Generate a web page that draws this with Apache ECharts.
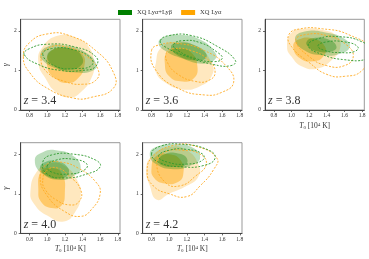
<!DOCTYPE html>
<html><head><meta charset="utf-8">
<script src="https://cdn.jsdelivr.net/npm/echarts@6/dist/echarts.min.js"></script>
<style>html,body{margin:0;padding:0;background:#fff}#c{width:369px;height:259px}</style>
</head><body><div id="c"></div>
<script>
// ---- data (T0 in 1e4 K, gamma) ----
const seriesNames = ['XQ Lyα+Lyβ', 'XQ Lyα'];
const redshifts = ['3.4', '3.6', '3.8', '4.0', '4.2'];
const xTicks = [0.8, 1.0, 1.2, 1.4, 1.6, 1.8];
const yTicks = [0, 1, 2];

// z = 3.4
const z34_orange2 = [[0.9,1.2],[0.95,1.6],[1.13,1.88],[1.33,1.82],[1.47,1.6],[1.53,1.2],[1.5,0.8],[1.38,0.45],[1.26,0.32],[1.1,0.45],[0.98,0.8]];
const z34_orange1 = [[1.0,1.1],[1.05,1.5],[1.25,1.55],[1.4,1.4],[1.42,1.1],[1.35,0.8],[1.24,0.68],[1.1,0.78]];
const z34_green2 = [[0.92,1.4],[1.0,1.6],[1.2,1.63],[1.4,1.5],[1.56,1.15],[1.5,0.98],[1.3,0.95],[1.1,1.05],[0.95,1.25]];
const z34_green1 = [[1.0,1.35],[1.1,1.55],[1.3,1.53],[1.4,1.32],[1.38,1.12],[1.25,1.02],[1.1,1.08]];
const z34_greenD2 = [[0.74,1.4],[0.8,1.55],[1.0,1.66],[1.3,1.6],[1.55,1.35],[1.55,1.1],[1.4,1.0],[1.15,1.0],[0.9,1.15]];
const z34_greenD1 = [[0.95,1.4],[1.05,1.55],[1.3,1.52],[1.5,1.3],[1.5,1.12],[1.35,1.05],[1.1,1.1]];
const z34_orangeD2 = [[0.73,1.35],[0.8,1.7],[1.0,1.92],[1.25,1.88],[1.55,1.5],[1.75,0.95],[1.75,0.55],[1.5,0.32],[1.3,0.3],[1.0,0.55],[0.8,0.95]];
const z34_orangeD1 = [[0.93,1.3],[1.0,1.55],[1.2,1.6],[1.45,1.35],[1.58,1.0],[1.55,0.75],[1.4,0.65],[1.2,0.72],[1.0,0.95]];

// z = 3.6
const z36_orange2 = [[0.85,1.2],[0.9,1.55],[1.05,1.72],[1.3,1.62],[1.48,1.2],[1.48,0.85],[1.35,0.6],[1.15,0.52],[0.95,0.7],[0.85,0.95]];
const z36_orange1 = [[0.95,1.2],[0.98,1.45],[1.1,1.55],[1.25,1.45],[1.32,1.1],[1.28,0.8],[1.15,0.72],[1.0,0.85]];
const z36_green2 = [[0.88,1.7],[0.95,1.85],[1.12,1.9],[1.35,1.78],[1.52,1.45],[1.52,1.28],[1.38,1.17],[1.15,1.3],[0.95,1.5]];
const z36_green1 = [[1.02,1.6],[1.12,1.7],[1.3,1.62],[1.42,1.42],[1.4,1.28],[1.3,1.25],[1.12,1.35]];
const z36_greenD2 = [[0.9,1.75],[1.0,1.88],[1.25,1.88],[1.55,1.6],[1.75,1.25],[1.7,1.12],[1.5,1.15],[1.2,1.35],[0.95,1.6]];
const z36_greenD1 = [[1.05,1.65],[1.15,1.75],[1.35,1.7],[1.55,1.45],[1.6,1.3],[1.5,1.22],[1.3,1.3],[1.1,1.5]];
const z36_orangeD2 = [[0.8,1.5],[0.9,1.65],[1.1,1.68],[1.4,1.5],[1.65,1.1],[1.73,0.7],[1.6,0.45],[1.4,0.38],[1.1,0.55],[0.85,1.0]];
const z36_orangeD1 = [[0.97,1.45],[1.05,1.55],[1.25,1.5],[1.45,1.25],[1.52,0.95],[1.45,0.75],[1.3,0.72],[1.1,0.9],[0.98,1.2]];

// z = 3.8
const z38_orange2 = [[0.95,1.6],[1.0,1.95],[1.15,2.05],[1.35,2.02],[1.52,1.85],[1.55,1.55],[1.45,1.25],[1.3,1.05],[1.12,1.1],[1.0,1.35]];
const z38_orange1 = [[1.02,1.6],[1.08,1.78],[1.25,1.8],[1.38,1.6],[1.36,1.35],[1.25,1.23],[1.1,1.3]];
const z38_green2 = [[1.04,1.8],[1.15,1.98],[1.4,1.95],[1.6,1.8],[1.66,1.6],[1.55,1.42],[1.35,1.38],[1.15,1.5]];
const z38_green1 = [[1.17,1.72],[1.25,1.82],[1.42,1.78],[1.51,1.6],[1.45,1.48],[1.3,1.48],[1.2,1.58]];
const z38_greenD2 = [[1.19,1.62],[1.3,1.8],[1.55,1.85],[1.8,1.72],[1.95,1.45],[1.85,1.28],[1.6,1.27],[1.35,1.4]];
const z38_greenD1 = [[1.3,1.62],[1.4,1.72],[1.6,1.72],[1.75,1.6],[1.72,1.48],[1.55,1.45],[1.38,1.5]];
const z38_orangeD2 = [[0.97,1.9],[1.1,2.05],[1.35,2.05],[1.65,1.9],[1.9,1.5],[1.8,1.0],[1.6,0.85],[1.4,0.9],[1.2,1.2],[1.0,1.6]];
const z38_orangeD1 = [[1.05,1.75],[1.15,1.9],[1.4,1.88],[1.62,1.65],[1.7,1.35],[1.6,1.12],[1.4,1.12],[1.2,1.35]];

// z = 4.0
const z40_orange2 = [[0.81,1.05],[0.88,1.55],[1.03,1.77],[1.2,1.7],[1.35,1.3],[1.38,0.95],[1.32,0.55],[1.19,0.3],[1.0,0.45],[0.85,0.75]];
const z40_orange1 = [[0.9,1.1],[0.93,1.55],[1.05,1.65],[1.17,1.5],[1.2,1.0],[1.16,0.7],[1.05,0.64],[0.93,0.8]];
const z40_green2 = [[0.86,1.85],[0.95,2.05],[1.1,2.1],[1.3,1.95],[1.38,1.65],[1.3,1.45],[1.15,1.35],[0.95,1.5]];
const z40_green1 = [[0.92,1.65],[0.98,1.8],[1.1,1.82],[1.22,1.7],[1.24,1.5],[1.15,1.39],[1.0,1.45]];
const z40_greenD2 = [[0.95,1.8],[1.05,1.98],[1.3,2.0],[1.55,1.85],[1.6,1.68],[1.45,1.5],[1.2,1.4],[1.0,1.5]];
const z40_greenD1 = [[1.0,1.7],[1.1,1.85],[1.3,1.87],[1.45,1.75],[1.42,1.6],[1.25,1.5],[1.05,1.55]];
const z40_orangeD2 = [[0.92,1.45],[1.0,1.75],[1.15,1.8],[1.35,1.65],[1.55,1.3],[1.6,1.0],[1.5,0.6],[1.38,0.43],[1.2,0.55],[1.0,0.95]];
const z40_orangeD1 = [[0.95,1.35],[1.0,1.6],[1.12,1.65],[1.25,1.45],[1.38,1.1],[1.36,0.8],[1.25,0.72],[1.1,0.85],[0.98,1.1]];

// z = 4.2
const z42_orange2 = [[0.74,1.6],[0.8,1.95],[1.01,2.18],[1.2,2.1],[1.33,1.75],[1.33,1.43],[1.2,1.2],[1.0,1.0],[0.86,0.85],[0.78,1.2]];
const z42_orange1 = [[0.8,1.65],[0.85,1.95],[1.0,2.0],[1.13,1.85],[1.16,1.5],[1.1,1.3],[0.95,1.26],[0.83,1.4]];
const z42_green2 = [[0.78,2.0],[0.85,2.18],[1.05,2.25],[1.28,2.15],[1.35,1.9],[1.25,1.72],[1.05,1.62],[0.85,1.75]];
const z42_green1 = [[0.88,1.85],[0.95,2.0],[1.1,2.02],[1.2,1.9],[1.18,1.72],[1.05,1.68],[0.92,1.72]];
const z42_greenD2 = [[0.8,2.0],[0.9,2.2],[1.15,2.25],[1.45,2.1],[1.52,1.9],[1.4,1.72],[1.15,1.68],[0.9,1.78]];
const z42_greenD1 = [[0.88,1.95],[1.0,2.1],[1.2,2.12],[1.38,2.0],[1.38,1.85],[1.2,1.75],[0.98,1.8]];
const z42_orangeD2 = [[0.75,1.56],[0.82,1.95],[1.05,2.22],[1.3,2.2],[1.54,1.9],[1.5,1.6],[1.35,1.2],[1.2,0.93],[1.0,1.0],[0.82,1.2]];
const z42_orangeD1 = [[0.86,1.8],[0.95,2.05],[1.15,2.1],[1.35,2.0],[1.42,1.75],[1.3,1.45],[1.12,1.2],[0.95,1.3]];

const contours = [
  {o2:z34_orange2,o1:z34_orange1,g2:z34_green2,g1:z34_green1,gd2:z34_greenD2,gd1:z34_greenD1,od2:z34_orangeD2,od1:z34_orangeD1},
  {o2:z36_orange2,o1:z36_orange1,g2:z36_green2,g1:z36_green1,gd2:z36_greenD2,gd1:z36_greenD1,od2:z36_orangeD2,od1:z36_orangeD1},
  {o2:z38_orange2,o1:z38_orange1,g2:z38_green2,g1:z38_green1,gd2:z38_greenD2,gd1:z38_greenD1,od2:z38_orangeD2,od1:z38_orangeD1},
  {o2:z40_orange2,o1:z40_orange1,g2:z40_green2,g1:z40_green1,gd2:z40_greenD2,gd1:z40_greenD1,od2:z40_orangeD2,od1:z40_orangeD1},
  {o2:z42_orange2,o1:z42_orange1,g2:z42_green2,g1:z42_green1,gd2:z42_greenD2,gd1:z42_greenD1,od2:z42_orangeD2,od1:z42_orangeD1}
];

// ---- layout ----
const FONT = 'Liberation Serif';
const panelPos = [[20.7,19.3],[142.7,19.3],[265,19.3],[20.7,142.7],[142.7,142.7]];
const PW = 99.3, PH = 90.7;
const showXTitle = [false,false,true,true,true];
const showYTitle = [true,false,false,true,false];

const grids=[], xAxes=[], yAxes=[], series=[], graphics=[];
const styles = {
  o2:{fill:'rgba(255,165,0,0.25)'},
  o1:{fill:'rgba(255,165,0,0.45)'},
  g2:{fill:'rgba(0,128,0,0.27)'},
  g1:{fill:'rgba(0,128,0,0.32)'},
  gd2:{fill:'none',stroke:'#2e9a2e',lineWidth:0.9,lineDash:[2,1.5]},
  gd1:{fill:'none',stroke:'#2e9a2e',lineWidth:0.9,lineDash:[2,1.5]},
  od2:{fill:'none',stroke:'#ffaa22',lineWidth:0.9,lineDash:[2,1.5]},
  od1:{fill:'none',stroke:'#ffaa22',lineWidth:0.9,lineDash:[2,1.5]}
};
const layerName = {o2:1,o1:1,od2:1,od1:1,g2:0,g1:0,gd2:0,gd1:0};
const order = ['o2','o1','g2','g1','od2','od1','gd2','gd1'];

panelPos.forEach((p,i)=>{
  grids.push({left:p[0],top:p[1],width:PW,height:PH,show:true,borderColor:'#999',borderWidth:1,backgroundColor:'transparent'});
  xAxes.push({type:'value',gridIndex:i,min:0.7,max:1.825,
    axisLine:{show:true,onZero:false,lineStyle:{color:'#444',width:1}},
    axisTick:{show:true,length:2,customValues:xTicks,lineStyle:{color:'#444',width:0.8}},
    axisLabel:{show:true,customValues:xTicks,fontFamily:FONT,fontSize:5.5,color:'#333',margin:3,formatter:v=>v.toFixed(1)},
    splitLine:{show:false},
    name: showXTitle[i] ? '{i|T}{s|0} [10{p|4} K]' : '',
    nameLocation:'middle',nameGap:12,
    nameTextStyle:{fontFamily:FONT,fontSize:7.5,color:'#333',rich:{i:{fontStyle:'italic',fontFamily:FONT,fontSize:7.5},s:{fontSize:5,fontFamily:FONT,verticalAlign:'bottom',padding:[3,0,0,0]},p:{fontSize:5,fontFamily:FONT,verticalAlign:'top',padding:[0,0,3,0]}}}
  });
  yAxes.push({type:'value',gridIndex:i,min:0,max:2.29,
    axisLine:{show:true,onZero:false,lineStyle:{color:'#444',width:1}},
    axisTick:{show:true,length:2,customValues:yTicks,lineStyle:{color:'#444',width:0.8}},
    axisLabel:{show:true,customValues:yTicks,fontFamily:FONT,fontSize:5.5,color:'#333',margin:4},
    splitLine:{show:false},
    name: showYTitle[i] ? 'γ' : '',
    nameLocation:'middle',nameGap:10,nameRotate:90,
    nameTextStyle:{fontFamily:FONT,fontSize:8,color:'#333',fontStyle:'italic'}
  });
  const c = contours[i];
  order.forEach(k=>{
    const pts = c[k];
    const st = styles[k];
    series.push({
      type:'custom', name: seriesNames[layerName[k]], xAxisIndex:i, yAxisIndex:i, clip:true, silent:true,
      data:[[pts[0][0],pts[0][1]]],
      renderItem:(params,api)=>({
        type:'polygon',
        shape:{points: pts.map(q=>api.coord(q)), smooth:0.5},
        style:Object.assign({},st)
      })
    });
  });
  graphics.push({type:'text',left:p[0]+3,top:p[1]+PH-15,
    style:{text:'{i|z} = '+redshifts[i],font:'12px '+FONT,fill:'#333',rich:{i:{fontStyle:'italic',fontFamily:FONT,fontSize:12}}}});
});

// legend proxy series
series.push({type:'custom',name:seriesNames[0],xAxisIndex:0,yAxisIndex:0,data:[],renderItem:()=>null,itemStyle:{color:'#008000'}});
series.push({type:'custom',name:seriesNames[1],xAxisIndex:0,yAxisIndex:0,data:[],renderItem:()=>null,itemStyle:{color:'#ffa500'}});

const chart = echarts.init(document.getElementById('c'),null,{renderer:'canvas'});
chart.setOption({
  animation:false,
  grid:grids, xAxis:xAxes, yAxis:yAxes, series:series,
  legend:{left:113,top:4,itemWidth:14,itemHeight:5,itemGap:9,
    data:[{name:seriesNames[0],itemStyle:{color:'#008000'}},{name:seriesNames[1],itemStyle:{color:'#ffa500'}}],
    icon:'rect',textStyle:{fontFamily:FONT,fontSize:6.5,color:'#333'},selectedMode:false},
  graphic:graphics
});
</script></body></html>
